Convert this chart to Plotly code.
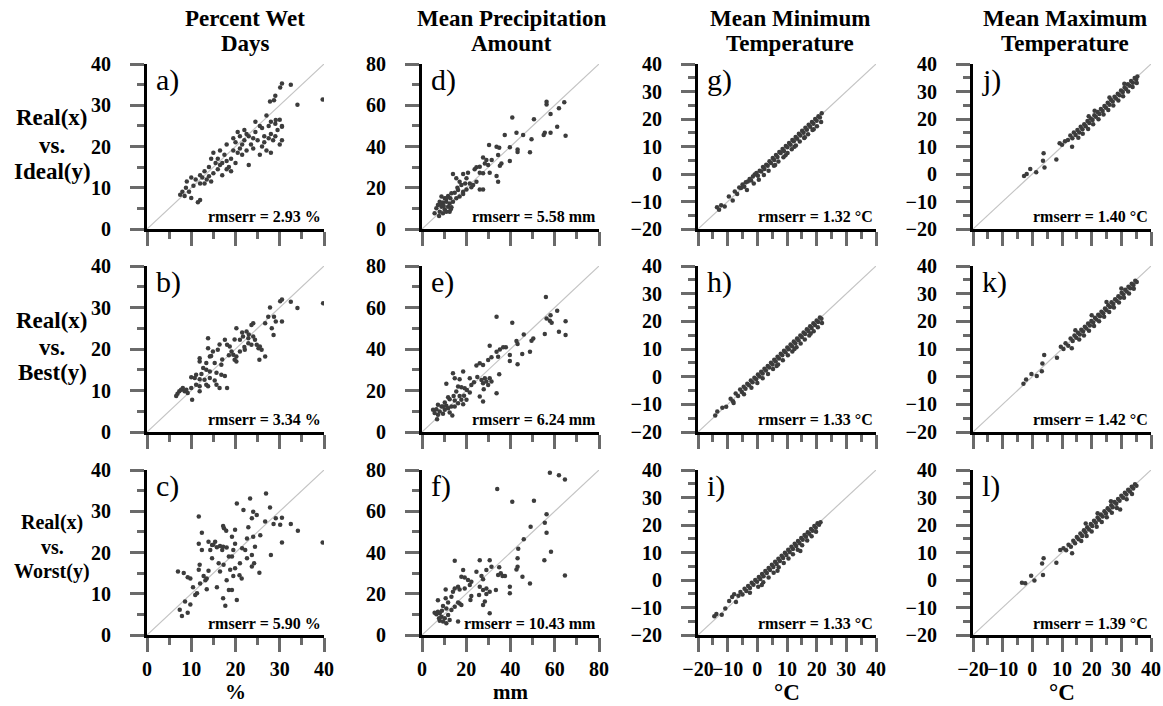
import plotly.graph_objects as go

# ---------------- data: (real, simulated) pairs per panel ----------------
wet_ideal = [
    (7.5, 8.3), (8.0, 9.0), (8.5, 8.0), (8.8, 10.0), (9.0, 11.5), (9.5, 9.0), (10.0, 7.5),
    (10.5, 10.5), (11.0, 12.0), (11.5, 6.5), (12.0, 7.0), (12.0, 11.0), (12.5, 12.5),
    (12.0, 13.0), (13.0, 11.0), (13.0, 14.0), (13.5, 12.0), (14.0, 12.8), (14.0, 15.0),
    (14.5, 11.5), (15.0, 13.5), (15.0, 18.5), (15.5, 16.0), (16.0, 14.5), (16.0, 17.0),
    (16.5, 15.5), (17.0, 13.0), (17.0, 16.0), (17.5, 18.0), (18.0, 14.5), (18.0, 16.5),
    (18.5, 15.0), (19.0, 14.0), (19.0, 17.0), (19.5, 22.0), (19.5, 19.0), (20.0, 16.0),
    (20.0, 21.0), (20.5, 18.5), (21.0, 19.5), (21.0, 22.5), (21.5, 20.5), (22.0, 24.0),
    (22.0, 21.5), (22.5, 19.0), (22.5, 23.0), (23.0, 22.5), (23.5, 20.5), (24.0, 22.0),
    (24.0, 19.5), (24.5, 23.5), (25.0, 21.5), (23.0, 15.5), (25.5, 18.0), (25.5, 25.0),
    (26.0, 20.0), (26.0, 24.5), (26.5, 21.0), (26.5, 22.5), (27.0, 19.0), (27.0, 27.5),
    (27.5, 22.0), (27.5, 25.0), (28.0, 18.5), (28.0, 23.0), (28.5, 21.5), (29.0, 22.5),
    (29.0, 25.5), (29.5, 24.0), (30.0, 20.5), (30.0, 26.5), (30.5, 25.0), (30.5, 21.5),
    (28.0, 26.0), (29.1, 26.4), (30.5, 24.8), (27.8, 30.9), (28.7, 31.2), (29.0, 32.3),
    (30.1, 34.3), (30.5, 35.3), (32.5, 35.0), (34.0, 30.1), (39.7, 31.4), (18.0, 20.5),
    (20.5, 23.5), (21.5, 18.0), (24.5, 26.0), (16.5, 19.0), (14.5, 17.0), (10.0, 12.5),
]
wet_best = [
    (39.8, 31.0), (34.0, 29.9), (32.5, 31.4), (30.5, 31.9), (30.1, 31.5), (30.5, 26.6),
    (29.1, 26.6), (28.7, 27.8), (27.8, 30.0), (27.4, 27.8), (28.2, 25.0), (28.6, 23.4),
    (26.7, 26.2), (24.0, 26.2), (23.6, 25.8), (20.2, 25.0), (22.5, 24.2), (21.7, 23.0),
    (22.9, 22.6), (24.0, 23.0), (24.4, 22.2), (19.8, 22.3), (21.0, 22.2), (17.6, 22.2),
    (16.4, 21.1), (18.1, 21.0), (18.7, 20.6), (16.0, 19.8), (14.9, 19.4), (13.8, 22.6),
    (13.8, 20.2), (14.2, 18.2), (14.5, 18.3), (19.1, 19.4), (19.5, 18.6), (20.2, 18.2),
    (21.0, 19.4), (22.1, 19.8), (22.9, 21.4), (23.6, 21.0), (24.8, 21.0), (25.2, 20.2),
    (25.5, 20.6), (25.9, 19.8), (26.7, 18.2), (25.4, 17.4), (19.8, 17.4), (20.2, 17.0),
    (11.9, 17.8), (11.9, 17.0), (13.4, 16.6), (15.3, 16.6), (16.8, 16.2), (12.7, 15.4),
    (13.4, 15.0), (14.2, 14.6), (15.7, 14.3), (16.8, 13.8), (17.6, 13.5), (12.3, 14.0),
    (11.1, 13.8), (10.0, 13.2), (10.8, 13.0), (11.9, 12.7), (13.0, 12.6), (14.2, 13.0),
    (15.3, 12.4), (13.4, 11.4), (13.8, 11.0), (15.7, 11.4), (16.4, 10.6), (18.1, 10.6),
    (11.1, 11.4), (11.9, 11.0), (10.0, 10.6), (11.9, 9.8), (10.2, 7.8), (8.1, 10.6),
    (7.7, 10.2), (7.3, 9.8), (6.9, 9.2), (8.5, 9.8), (9.2, 9.4), (8.9, 10.2), (6.6, 8.7),
    (21.5, 24.0), (23.0, 23.5), (22.0, 20.5), (17.0, 17.5), (18.5, 18.5),
]
wet_worst = [
    (39.7, 22.4), (34.1, 25.3), (32.5, 26.9), (30.5, 22.4), (30.5, 28.4), (30.1, 26.7),
    (29.1, 28.3), (28.6, 26.9), (27.8, 30.9), (26.9, 34.3), (26.7, 27.5), (28.0, 19.4),
    (25.4, 15.1), (25.6, 24.2), (24.4, 21.4), (24.0, 23.8), (24.8, 29.1), (24.0, 29.9),
    (23.7, 28.3), (23.3, 33.1), (22.9, 26.1), (22.6, 23.4), (23.7, 19.4), (24.2, 17.4),
    (23.7, 16.6), (22.6, 18.6), (22.2, 20.6), (21.8, 30.3), (20.3, 31.9), (21.0, 17.4),
    (20.9, 14.5), (21.4, 13.7), (20.3, 8.5), (19.9, 22.1), (19.5, 20.6), (19.9, 25.5),
    (19.2, 23.8), (19.2, 19.0), (18.5, 19.0), (19.9, 16.2), (19.5, 14.3), (18.8, 15.8),
    (18.5, 10.9), (19.2, 10.9), (18.0, 13.3), (17.7, 7.1), (17.3, 17.0), (17.2, 8.9),
    (17.0, 20.6), (17.2, 21.4), (17.4, 25.9), (17.2, 26.4), (17.9, 25.3), (16.5, 21.6),
    (15.8, 21.3), (15.4, 22.6), (14.7, 21.8), (13.9, 22.6), (14.3, 20.6), (14.7, 18.6),
    (16.2, 17.4), (16.5, 15.4), (15.8, 11.6), (13.5, 11.1), (13.5, 13.7), (13.9, 15.6),
    (13.2, 13.3), (12.8, 14.3), (12.4, 20.6), (12.4, 24.8), (11.7, 28.7), (11.7, 22.1),
    (11.9, 17.0), (11.7, 15.8), (12.0, 12.5), (10.9, 9.7), (11.3, 10.1), (10.4, 11.6),
    (9.8, 13.7), (9.2, 14.0), (8.3, 15.0), (7.0, 15.4), (7.9, 4.6), (7.4, 6.1), (8.6, 8.1),
    (9.2, 5.4), (9.8, 7.4), (21.5, 21.0), (15.0, 21.9), (18.0, 21.2),
]
prcp_ideal = [
    (64.3, 61.4), (56.3, 61.7), (56.3, 60.4), (61.9, 58.5), (58.1, 55.7), (50.6, 53.2),
    (40.8, 54.1), (61.1, 49.6), (58.1, 46.7), (55.5, 46.7), (55.0, 45.6), (64.9, 45.2),
    (42.7, 46.7), (45.7, 45.6), (49.5, 43.5), (37.4, 45.6), (30.3, 40.7), (34.9, 39.4),
    (33.7, 39.9), (39.7, 39.6), (43.2, 38.6), (43.2, 37.3), (48.8, 37.2), (39.7, 33.0),
    (34.4, 35.9), (35.2, 30.7), (35.9, 31.8), (27.6, 34.7), (29.1, 33.4), (28.4, 31.8),
    (26.1, 30.2), (29.9, 31.0), (24.6, 29.9), (30.6, 27.3), (27.6, 27.0), (26.1, 27.3),
    (33.7, 25.7), (34.4, 22.9), (26.1, 19.2), (27.6, 19.2), (23.8, 29.0), (20.8, 27.3),
    (18.6, 26.7), (14.0, 26.7), (15.5, 24.6), (20.1, 24.6), (17.0, 22.9), (17.8, 21.3),
    (21.6, 22.1), (22.3, 20.2), (20.1, 19.2), (18.6, 18.1), (16.3, 18.9), (14.8, 17.6),
    (13.3, 17.3), (11.8, 16.0), (10.3, 14.9), (8.8, 15.7), (8.0, 13.2), (9.5, 12.8),
    (11.0, 13.2), (12.5, 12.4), (14.0, 13.2), (15.5, 14.9), (17.0, 15.7), (7.2, 11.6),
    (8.8, 10.8), (10.3, 9.5), (11.8, 10.8), (13.3, 10.5), (8.0, 8.4), (9.5, 7.6),
    (6.5, 10.0), (5.7, 7.6), (7.7, 6.3), (8.5, 12.1), (11.0, 14.9), (12.8, 14.9),
    (18.6, 17.0), (23.1, 21.3), (24.6, 22.9), (11.0, 8.4), (12.5, 8.4), (9.8, 11.2),
    (16.0, 20.0), (19.5, 22.0), (31.5, 33.5), (13.0, 9.6),
]
prcp_best = [
    (56.0, 65.1), (64.9, 53.4), (61.1, 58.4), (58.1, 56.3), (56.3, 54.7), (57.8, 53.6),
    (58.6, 52.6), (55.5, 47.2), (61.9, 48.3), (64.9, 46.7), (33.7, 55.5), (40.8, 52.6),
    (46.0, 47.0), (49.5, 44.0), (50.3, 45.1), (42.7, 43.8), (43.2, 42.4), (37.9, 40.8),
    (36.7, 40.8), (35.2, 39.8), (33.7, 38.7), (34.4, 36.3), (30.6, 41.6), (39.7, 37.1),
    (39.7, 34.2), (43.2, 32.6), (45.3, 37.6), (48.8, 38.7), (31.4, 36.0), (29.9, 34.7),
    (27.6, 32.3), (26.1, 33.1), (24.6, 32.0), (34.9, 27.8), (28.4, 25.9), (26.9, 25.1),
    (30.6, 25.9), (29.1, 24.3), (27.6, 23.5), (29.9, 22.7), (31.4, 24.3), (27.9, 20.6),
    (33.7, 18.7), (26.1, 17.1), (27.6, 14.7), (21.6, 25.9), (22.3, 22.7), (20.3, 20.3),
    (21.6, 19.0), (18.6, 29.1), (17.0, 25.4), (14.0, 28.3), (14.8, 25.9), (11.0, 23.2),
    (16.3, 21.9), (17.8, 21.6), (19.3, 21.1), (15.5, 19.5), (17.0, 17.4), (14.3, 17.4),
    (11.8, 16.8), (12.5, 15.8), (14.8, 15.2), (17.8, 15.5), (20.1, 15.5), (10.3, 14.2),
    (16.3, 13.9), (18.6, 13.4), (7.2, 13.1), (8.8, 12.3), (11.0, 12.6), (13.3, 12.3),
    (5.0, 10.7), (6.5, 11.0), (8.0, 9.9), (10.3, 10.7), (12.5, 9.4), (7.2, 8.3),
    (9.5, 8.8), (13.7, 8.0), (5.7, 9.1), (6.8, 6.2), (9.5, 12.3), (11.8, 11.5),
    (14.8, 12.3), (25.0, 26.5), (23.5, 24.0), (19.0, 17.5),
]
prcp_worst = [
    (57.8, 78.7), (61.9, 77.5), (64.6, 75.4), (34.0, 70.8), (40.8, 64.6), (50.6, 65.1),
    (56.3, 58.6), (55.5, 54.4), (49.1, 52.5), (56.3, 49.6), (46.0, 46.4), (43.5, 41.8),
    (58.3, 40.4), (55.3, 36.3), (64.6, 28.8), (43.2, 37.2), (43.2, 33.1), (42.7, 31.8),
    (45.4, 28.3), (48.8, 25.0), (39.7, 23.4), (39.7, 20.2), (34.9, 32.8), (35.6, 29.9),
    (34.4, 29.1), (36.4, 28.6), (37.5, 28.6), (31.4, 33.1), (30.6, 36.3), (26.1, 36.3),
    (29.1, 31.5), (24.6, 30.7), (26.9, 28.6), (27.6, 27.0), (22.3, 25.8), (20.8, 26.7),
    (19.3, 27.9), (17.8, 28.3), (14.8, 36.0), (18.6, 31.5), (21.6, 24.2), (26.1, 23.4),
    (27.6, 21.8), (29.1, 22.6), (30.6, 21.0), (29.1, 19.9), (33.4, 21.8), (25.8, 19.4),
    (27.6, 14.5), (28.4, 16.2), (30.6, 10.5), (22.3, 18.9), (21.9, 17.0), (19.3, 22.6),
    (16.3, 23.4), (14.8, 22.6), (17.0, 22.1), (14.0, 21.0), (10.7, 22.1), (17.0, 15.3),
    (17.8, 14.5), (16.3, 15.7), (13.3, 18.6), (10.7, 17.8), (7.2, 16.9), (11.8, 15.7),
    (9.5, 14.0), (11.0, 12.9), (7.2, 11.3), (5.7, 10.8), (8.0, 10.5), (6.5, 10.0),
    (8.8, 8.9), (8.0, 6.9), (9.5, 6.5), (11.0, 5.7), (10.3, 8.1), (12.5, 7.3),
    (16.3, 6.5), (11.8, 9.7), (7.7, 8.1), (13.3, 12.1), (14.8, 13.7), (9.0, 11.8),
]
tmin_ideal = [
    (-13.6, -12.1), (-12.9, -13.0), (-12.2, -11.4), (-11.0, -11.8), (-9.6, -8.2), (-8.3, -9.6),
    (-7.6, -6.4), (-6.8, -7.3), (-6.1, -4.9), (-5.5, -5.1), (-5.0, -3.8), (-4.4, -4.6),
    (-3.9, -3.0), (-3.2, -2.7), (-2.6, -1.8), (-2.1, -2.4), (-1.5, -0.9), (-0.9, -0.2),
    (-0.3, 0.4), (0.2, -0.6), (0.8, 1.2), (1.3, 0.9), (1.9, 2.5), (2.4, 1.8), (3.0, 3.4),
    (3.5, 3.0), (4.1, 4.6), (4.6, 4.0), (5.2, 5.8), (5.7, 5.1), (6.3, 6.9), (6.8, 6.2),
    (7.4, 8.0), (7.9, 7.6), (8.5, 9.1), (9.0, 8.4), (9.6, 10.2), (10.1, 9.7), (10.7, 11.3),
    (11.2, 10.6), (11.8, 12.4), (12.3, 11.9), (12.9, 13.5), (13.4, 12.8), (14.0, 14.6),
    (14.5, 14.0), (15.1, 15.7), (15.6, 15.0), (16.2, 16.8), (16.7, 16.1), (17.3, 17.9),
    (17.8, 17.2), (18.4, 18.9), (18.9, 18.3), (19.5, 20.0), (20.0, 19.4), (20.6, 21.0),
    (21.1, 20.5), (21.7, 22.1), (-3.5, -5.8), (-1.2, -3.5), (0.5, -2.1), (2.2, -0.4),
    (3.8, 1.2), (5.6, 3.0), (7.1, 4.5), (8.8, 6.1), (10.2, 7.6), (11.6, 9.0), (13.0, 10.4),
    (14.3, 11.8), (15.8, 13.1), (17.1, 14.5), (18.6, 16.0), (20.1, 17.4), (21.5, 18.9),
    (6.0, 3.3), (9.5, 6.8), (12.5, 9.9), (16.0, 13.4), (19.0, 16.3),
]
tmin_best = [
    (-14.2, -14.0), (-13.5, -12.6), (-11.8, -11.2), (-10.5, -10.9), (-9.0, -8.0), (-8.2, -8.9),
    (-7.3, -6.1), (-6.5, -7.0), (-5.8, -4.6), (-5.2, -5.5), (-4.6, -3.6), (-4.0, -4.4),
    (-3.4, -2.6), (-2.8, -3.1), (-2.2, -1.4), (-1.6, -2.0), (-1.0, -0.4), (-0.4, -0.9),
    (0.2, 0.8), (0.7, 0.1), (1.3, 1.8), (1.8, 1.1), (2.4, 2.9), (2.9, 2.2), (3.5, 3.9),
    (4.0, 3.3), (4.6, 5.0), (5.1, 4.4), (5.7, 6.1), (6.2, 5.5), (6.8, 7.2), (7.3, 6.6),
    (7.9, 8.3), (8.4, 7.7), (9.0, 9.4), (9.5, 8.8), (10.1, 10.5), (10.6, 9.9), (11.2, 11.6),
    (11.7, 11.0), (12.3, 12.7), (12.8, 12.1), (13.4, 13.8), (13.9, 13.2), (14.5, 14.9),
    (15.0, 14.3), (15.6, 16.0), (16.1, 15.4), (16.7, 17.1), (17.2, 16.5), (17.8, 18.2),
    (18.3, 17.6), (18.9, 19.3), (19.4, 18.7), (20.0, 20.3), (20.5, 19.8), (21.1, 21.4),
    (21.6, 20.9), (-4.5, -6.4), (-2.0, -4.0), (0.0, -2.3), (1.8, -0.6), (3.6, 1.0),
    (5.3, 2.8), (7.0, 4.4), (8.6, 5.9), (10.3, 7.7), (11.8, 9.1), (13.2, 10.6),
    (14.6, 12.0), (16.0, 13.4), (17.5, 14.9), (19.0, 16.4), (20.4, 17.9), (21.8, 19.4),
    (-8.0, -9.5), (6.5, 3.9), (12.5, 10.0), (18.0, 15.6),
]
tmin_worst = [
    (-14.5, -13.2), (-13.8, -12.4), (-12.0, -12.6), (-10.8, -10.4), (-8.5, -6.2), (-7.2, -8.0),
    (-6.4, -5.7), (-5.7, -4.4), (-5.0, -5.3), (-4.3, -3.2), (-3.7, -4.0), (-3.1, -2.2),
    (-2.5, -2.9), (-1.9, -1.0), (-1.3, -1.7), (-0.7, 0.0), (-0.1, -0.6), (0.5, 1.1),
    (1.0, 0.4), (1.6, 2.2), (2.1, 1.4), (2.7, 3.3), (3.2, 2.5), (3.8, 4.4), (4.3, 3.6),
    (4.9, 5.5), (5.4, 4.7), (6.0, 6.6), (6.5, 5.8), (7.1, 7.7), (7.6, 6.9), (8.2, 8.8),
    (8.7, 8.0), (9.3, 9.9), (9.8, 9.1), (10.4, 11.0), (10.9, 10.2), (11.5, 12.1),
    (12.0, 11.3), (12.6, 13.2), (13.1, 12.4), (13.7, 14.2), (14.2, 13.5), (14.8, 15.3),
    (15.3, 14.6), (15.9, 16.4), (16.4, 15.7), (17.0, 17.4), (17.5, 16.8), (18.1, 18.5),
    (18.6, 17.9), (19.2, 19.6), (19.7, 19.0), (20.3, 20.6), (20.8, 20.1), (21.3, 21.0),
    (-2.5, -4.6), (0.3, -2.5), (2.0, -0.8), (3.8, 0.9), (5.5, 2.6), (7.2, 4.6), (8.9, 6.2),
    (10.5, 7.8), (12.0, 9.4), (13.6, 11.0), (15.1, 12.6), (14.5, 10.5), (16.8, 14.4),
    (18.3, 15.9), (19.8, 17.5), (-9.5, -7.6), (-7.8, -5.2), (1.5, -1.8), (6.8, 3.4),
]
tmax_ideal = [
    (-2.8, -0.7), (-1.9, 0.0), (-0.7, 1.8), (1.3, 0.6), (3.6, 4.8), (3.8, 7.5), (4.1, 2.4),
    (8.1, 5.3), (9.2, 11.2), (10.0, 10.6), (11.0, 11.9), (12.0, 12.4), (13.4, 9.9),
    (12.8, 14.0), (13.5, 13.0), (14.0, 15.1), (14.6, 14.2), (15.2, 16.0), (15.8, 15.1),
    (16.3, 17.2), (16.9, 16.3), (17.5, 18.1), (18.0, 17.4), (18.6, 19.3), (19.2, 18.5),
    (19.7, 20.2), (20.3, 19.6), (20.9, 21.4), (21.4, 20.8), (22.0, 22.5), (22.6, 21.8),
    (23.1, 23.6), (23.7, 22.9), (24.3, 24.7), (24.8, 24.1), (25.4, 25.9), (26.0, 25.2),
    (26.5, 27.0), (27.1, 26.4), (27.7, 28.1), (28.2, 27.5), (28.8, 29.2), (29.4, 28.6),
    (29.9, 30.4), (30.5, 29.8), (31.1, 31.5), (31.6, 30.9), (32.2, 32.6), (32.8, 32.1),
    (33.3, 33.8), (33.9, 33.2), (34.5, 34.9), (35.0, 34.4), (35.4, 35.5), (15.5, 13.2),
    (17.0, 14.6), (18.8, 16.4), (20.5, 18.1), (22.3, 19.9), (24.0, 21.6), (25.6, 23.3),
    (27.3, 24.9), (29.0, 26.7), (30.6, 28.3), (32.3, 30.0), (33.8, 31.6), (35.2, 33.1),
    (21.0, 23.0), (26.0, 27.8), (31.0, 32.8), (19.0, 21.0),
]
tmax_best = [
    (-3.0, -2.6), (-2.1, -1.0), (-0.3, 1.0), (1.5, 0.2), (3.2, 2.0), (3.4, 4.8), (4.0, 7.8),
    (8.3, 6.8), (9.6, 10.8), (10.5, 10.0), (11.2, 12.1), (12.1, 11.2), (13.3, 10.3),
    (12.9, 13.8), (13.6, 12.9), (14.2, 14.9), (14.8, 14.1), (15.4, 15.9), (16.0, 15.2),
    (16.5, 17.0), (17.1, 16.3), (17.7, 18.0), (18.2, 17.4), (18.8, 19.2), (19.4, 18.5),
    (19.9, 20.1), (20.5, 19.6), (21.1, 21.3), (21.6, 20.7), (22.2, 22.4), (22.8, 21.8),
    (23.3, 23.5), (23.9, 22.9), (24.5, 24.6), (25.0, 24.0), (25.6, 25.8), (26.2, 25.2),
    (26.7, 26.9), (27.3, 26.3), (27.9, 28.0), (28.4, 27.4), (29.0, 29.1), (29.6, 28.5),
    (30.1, 30.3), (30.7, 29.7), (31.3, 31.4), (31.8, 30.8), (32.4, 32.5), (33.0, 32.0),
    (33.5, 33.6), (34.1, 33.1), (34.7, 34.7), (35.2, 34.2), (15.8, 13.4), (17.4, 14.9),
    (19.1, 16.6), (20.8, 18.3), (22.5, 20.0), (24.2, 21.7), (25.9, 23.4), (27.5, 25.0),
    (29.2, 26.8), (30.9, 28.5), (32.6, 30.1), (34.2, 31.8), (20.0, 22.2), (25.0, 27.0),
    (30.0, 31.9), (14.5, 16.8),
]
tmax_worst = [
    (-3.5, -1.0), (-2.4, -1.2), (-0.4, 1.5), (0.7, -0.2), (3.3, 6.0), (3.8, 7.9), (3.6, 1.8),
    (8.1, 6.3), (9.4, 10.9), (13.4, 9.7), (10.5, 11.5), (11.4, 10.8), (12.2, 12.8),
    (13.0, 12.1), (13.8, 14.3), (14.4, 13.4), (15.0, 15.6), (15.6, 14.8), (16.2, 16.9),
    (16.8, 16.0), (17.4, 18.1), (17.9, 17.3), (18.5, 19.2), (19.1, 18.4), (19.7, 20.4),
    (20.2, 19.6), (20.8, 21.5), (21.4, 20.8), (22.0, 22.7), (22.5, 21.9), (23.1, 23.8),
    (23.7, 23.1), (24.3, 25.0), (24.8, 24.2), (25.4, 26.1), (26.0, 25.4), (26.6, 27.2),
    (27.1, 26.5), (27.7, 28.4), (28.3, 27.7), (28.9, 29.5), (29.4, 28.8), (30.0, 30.6),
    (30.6, 29.9), (31.2, 31.7), (31.7, 31.1), (32.3, 32.8), (32.9, 32.2), (33.5, 33.9),
    (34.0, 33.3), (34.6, 34.8), (35.1, 34.3), (16.5, 14.2), (18.3, 16.0), (20.0, 17.6),
    (21.7, 19.4), (23.4, 21.1), (25.1, 22.8), (26.8, 24.5), (28.5, 26.2), (29.6, 25.6),
    (31.8, 29.4), (33.6, 31.3), (18.0, 20.5), (22.0, 24.3), (26.5, 28.6),
]

rmserr_text = [
    ["rmserr = 2.93 %", "rmserr = 5.58 mm", "rmserr = 1.32 °C", "rmserr = 1.40 °C"],
    ["rmserr = 3.34 %", "rmserr = 6.24 mm", "rmserr = 1.33 °C", "rmserr = 1.42 °C"],
    ["rmserr = 5.90 %", "rmserr = 10.43 mm", "rmserr = 1.33 °C", "rmserr = 1.39 °C"],
]
panel_letters = [["a)", "d)", "g)", "j)"], ["b)", "e)", "h)", "k)"], ["c)", "f)", "i)", "l)"]]
column_titles = [["Percent Wet", "Days"], ["Mean Precipitation", "Amount"],
                 ["Mean Minimum", "Temperature"], ["Mean Maximum", "Temperature"]]
row_titles = [["Real(x)", "vs.", "Ideal(y)"], ["Real(x)", "vs.", "Best(y)"],
              ["Real(x)", "vs.", "Worst(y)"]]
unit_titles = ["%", "mm", "°C", "°C"]
axis_ranges = [[0, 40], [0, 80], [-20, 40], [-20, 40]]
major_step = [10, 20, 10, 10]

grid = [
    [wet_ideal, prcp_ideal, tmin_ideal, tmax_ideal],
    [wet_best, prcp_best, tmin_best, tmax_best],
    [wet_worst, prcp_worst, tmin_worst, tmax_worst],
]

# ---------------- layout geometry (pixels) ----------------
W, H = 1163, 706
col_px = [(147, 324), (422, 599), (698, 876), (973, 1151)]
row_px = [(64, 229), (266, 432), (470, 635)]
title_cx = [245, 511, 790, 1065]


def fx(p):
    return p / W


def fy(p):
    return 1 - p / H


SERIF = "Liberation Serif"
TICK_GRAY = "#6a6a6a"


def label(text, x, y, size, bold=True, xanchor="center", yanchor="middle"):
    return dict(
        text=text, xref="paper", yref="paper", x=fx(x), y=fy(y),
        xanchor=xanchor, yanchor=yanchor, showarrow=False,
        font=dict(family=SERIF, size=size, color="black", weight="bold" if bold else "normal"),
    )


fig = go.Figure()
layout = dict(
    template="none",
    width=W, height=H, margin=dict(l=0, r=0, t=0, b=0, autoexpand=False),
    paper_bgcolor="white", plot_bgcolor="white", showlegend=False,
    font=dict(family=SERIF, color="black"),
)
annotations = []

for r in range(3):
    for c in range(4):
        k = r * 4 + c + 1
        xa = "x" if k == 1 else f"x{k}"
        ya = "y" if k == 1 else f"y{k}"
        lo, hi = axis_ranges[c]
        pts = grid[r][c]

        fig.add_trace(go.Scatter(
            x=[lo, hi], y=[lo, hi], mode="lines", xaxis=xa, yaxis=ya,
            line=dict(color="#c4c4c4", width=1.2), hoverinfo="skip",
        ))
        fig.add_trace(go.Scatter(
            x=[p[0] for p in pts], y=[p[1] for p in pts], mode="markers",
            xaxis=xa, yaxis=ya,
            marker=dict(size=4.5, color="#3c3c3c", symbol="circle", line=dict(width=0)),
        ))

        common = dict(
            range=[lo, hi], dtick=major_step[c], tick0=0, showgrid=False, zeroline=False,
            showline=True, linecolor="black", linewidth=3, automargin=False,
            ticks="outside", ticklen=14, tickwidth=3, tickcolor=TICK_GRAY,
            minor=dict(dtick=major_step[c] / 2, tick0=0, ticks="outside", ticklen=7,
                       tickwidth=3, tickcolor=TICK_GRAY, showgrid=False),
            tickfont=dict(family=SERIF, size=20, color="black", weight="bold"),
            tickangle=0, fixedrange=True,
        )
        x0, x1 = col_px[c]
        y0, y1 = row_px[r]
        layout["xaxis" if k == 1 else f"xaxis{k}"] = dict(
            common, domain=[fx(x0), fx(x1)], anchor=ya,
            showticklabels=(r == 2), ticklabelstandoff=0,
        )
        layout["yaxis" if k == 1 else f"yaxis{k}"] = dict(
            common, domain=[fy(y1), fy(y0)], anchor=xa, ticklabelstandoff=15,
        )

        annotations.append(label(panel_letters[r][c], x0 + 7, y0 - 3, 30, bold=False,
                                 xanchor="left", yanchor="top"))
        annotations.append(label(rmserr_text[r][c], x1 - 1, y1 - 12, 16, xanchor="right"))

for c in range(4):
    x0, x1 = col_px[c]
    annotations.append(label(column_titles[c][0], title_cx[c], 18, 23))
    annotations.append(label(column_titles[c][1], title_cx[c], 43, 23))
    annotations.append(label(unit_titles[c], (x0 + x1) / 2, 692, 21 if c < 2 else 23))

row_line_y = [[118, 145, 172], [320, 347, 373], [522, 547, 571]]
for r in range(3):
    size = 23 if r < 2 else 20
    for j, txt in enumerate(row_titles[r]):
        annotations.append(label(txt, 52, row_line_y[r][j], size))

layout["annotations"] = annotations
fig.update_layout(**layout)
fig.write_html("out.html")
